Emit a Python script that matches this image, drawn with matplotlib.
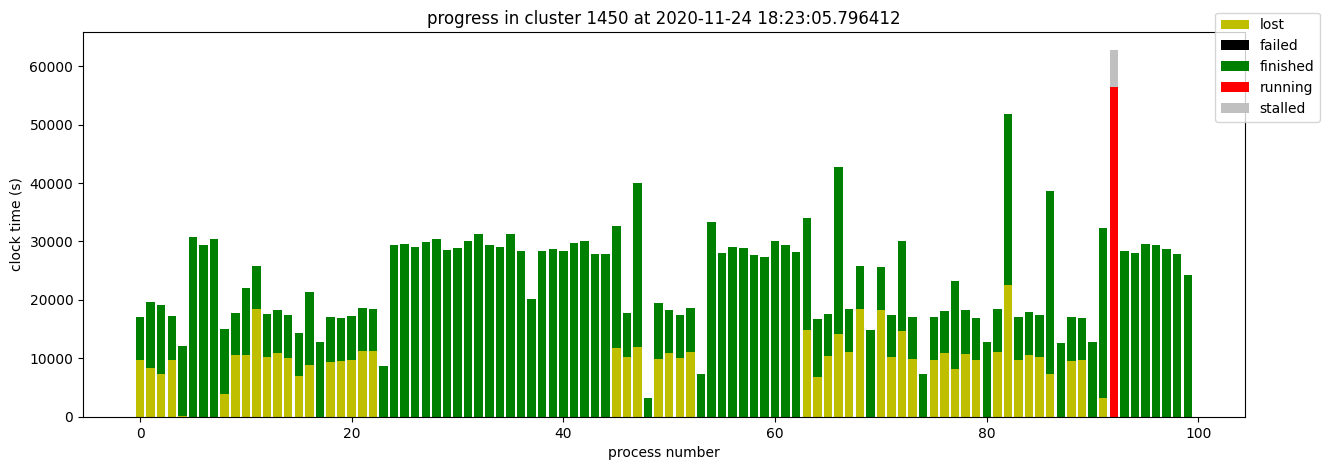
import numpy as np
import matplotlib
matplotlib.use("Agg")
import matplotlib.pyplot as plt

# Process numbers in the cluster
procs = np.arange(100)

# Clock time spent in each state (s), one entry per process
lost = [9700, 8400, 7350, 9700, 200, 0, 0, 0, 3900, 10600,
        10600, 18400, 10250, 10900, 10100, 7000, 8900, 0, 9400, 9550,
        9750, 11250, 11250, 0, 0, 0, 0, 0, 0, 0,
        0, 0, 0, 0, 0, 0, 0, 0, 0, 0,
        0, 0, 0, 0, 0, 11800, 10250, 11950, 0, 9900,
        10900, 10100, 11100, 0, 0, 0, 0, 0, 0, 0,
        0, 0, 0, 14850, 6850, 10400, 14200, 11100, 18450, 0,
        18300, 10250, 14700, 9900, 0, 9750, 10950, 8200, 10750, 9750,
        0, 11100, 22550, 9750, 10600, 10250, 7350, 0, 9550, 9750,
        0, 3250, 0, 0, 0, 0, 0, 0, 0, 0]

failed = [0] * 100

finished = [7400, 11250, 11800, 7550, 11950, 30750, 29400, 30400, 11150, 7200,
            11450, 7400, 7350, 7400, 7350, 7350, 12450, 12800, 7700, 7350,
            7500, 7350, 7200, 8700, 29400, 29550, 29050, 29900, 30400, 28550,
            28900, 30100, 31300, 29400, 29050, 31300, 28400, 20150, 28400, 28700,
            28400, 29750, 30100, 27850, 27850, 20850, 7550, 28050, 3250, 9600,
            7400, 7350, 7500, 7350, 33300, 28050, 29050, 28900, 27700, 27350,
            30100, 29400, 28200, 19150, 9900, 7200, 28500, 7350, 7350, 14850,
            7350, 7200, 15400, 7200, 7350, 7350, 7150, 15050, 7550, 7150,
            12800, 7350, 29250, 7350, 7350, 7200, 31300, 12650, 7550, 7150,
            12800, 29050, 0, 28400, 28050, 29550, 29400, 28700, 27850, 24250]

running = [0] * 92 + [56400] + [0] * 7
stalled = [0] * 92 + [6300] + [0] * 7

states = ["lost", "failed", "finished", "running", "stalled"]
colors = ["y", "k", "g", "r", "silver"]

fig, ax = plt.subplots(figsize=(13.3, 4.7), dpi=100)
fig.subplots_adjust(left=0.0624, right=0.936, bottom=0.113, top=0.932)

bottom = np.zeros(len(procs))
for name, vals, col in zip(states, [lost, failed, finished, running, stalled], colors):
    vals = np.array(vals)
    ax.bar(procs, vals, bottom=bottom, color=col, label=name)
    bottom += vals

ax.set_title("progress in cluster 1450 at 2020-11-24 18:23:05.796412")
ax.set_xlabel("process number")
ax.set_ylabel("clock time (s)")
fig.legend(loc="upper right", bbox_to_anchor=(0.9925, 0.973), borderaxespad=0)

fig.savefig("out.png")
